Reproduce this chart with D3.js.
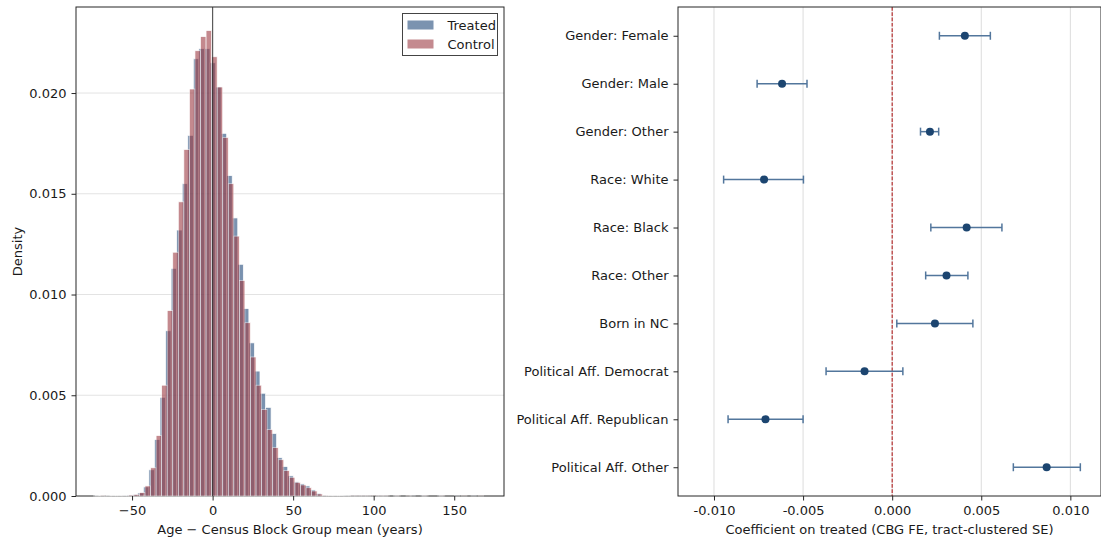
<!DOCTYPE html>
<html>
<head>
<meta charset="utf-8">
<script src="https://cdn.jsdelivr.net/npm/d3@7"></script>
<style>
  body { margin: 0; background: #fff; }
  svg { display: block; font-family: "DejaVu Sans", sans-serif; }
</style>
</head>
<body>
<svg id="chart" width="1101" height="542"></svg>
<script>
// ---- Histogram data: age minus census block group mean (years), density per bin ----
const controlBinStart = -73.0;
const controlBinWidth = 3.447;
const controlDensity = [
  0.00002, 0.00001, 0.00002, 0.00002, 0.00003, 0.00003, 0.00005, 0.00008,
  0.00017, 0.0005, 0.0014, 0.0030, 0.0055, 0.0092, 0.0121, 0.0146,
  0.0172, 0.0202, 0.0221, 0.0228, 0.0231, 0.0218, 0.0203, 0.0178,
  0.0155, 0.0129, 0.0107, 0.0086, 0.0069, 0.0055, 0.0043, 0.0033,
  0.0024, 0.0018, 0.00126, 0.00093, 0.00068, 0.00055, 0.00041, 0.00025,
  0.0001, 0.00004, 0.00003, 0.00002, 0.00002, 0.00002, 0.00001, 0.00001,
  0.00001, 0.00001, 0.00001, 0.00001, 0.00001, 0, 0.00001, 0,
  0.00001, 0, 0, 0.00001, 0, 0, 0.00001, 0,
  0, 0, 0.00001, 0, 0, 0.00001
];

const treatedBinStart = -74.0;
const treatedBinWidth = 3.447;
const treatedDensity = [
  0.00001, 0.00002, 0.00001, 0.00002, 0.00003, 0.00004, 0.00005, 0.00007,
  0.00015, 0.00045, 0.0013, 0.0028, 0.0049, 0.0082, 0.0113, 0.0132,
  0.0155, 0.0179, 0.0217, 0.0222, 0.0222, 0.0215, 0.0203, 0.0180,
  0.0159, 0.0138, 0.0115, 0.0093, 0.0076, 0.0062, 0.0051, 0.0044,
  0.0031, 0.0019, 0.00146, 0.0010, 0.0007, 0.0006, 0.0005, 0.0003,
  0.00013, 0.00004, 0.00003, 0.00002, 0.00002, 0.00001, 0.00001, 0.00001,
  0.00001, 0.00001, 0, 0.00001, 0.00001, 0, 0.00001, 0,
  0, 0.00001, 0, 0.00001, 0, 0, 0.00001, 0,
  0, 0.00001, 0, 0, 0.00001, 0
];

const histXTicks = [-50, 0, 50, 100, 150];
const histYTicks = [0, 0.005, 0.010, 0.015, 0.020];
const seriesNames = ["Treated", "Control"];

// ---- Coefficient plot data ----
const covariates = [
  "Gender: Female", "Gender: Male", "Gender: Other",
  "Race: White", "Race: Black", "Race: Other",
  "Born in NC",
  "Political Aff. Democrat", "Political Aff. Republican", "Political Aff. Other"
];
const coefEstimate = [0.00408, -0.00618, 0.00212, -0.00719, 0.00418, 0.00305, 0.00240, -0.00155, -0.00711, 0.00867];
const coefLower    = [0.00265, -0.00758, 0.00159, -0.00946, 0.00217, 0.00188, 0.00026, -0.00371, -0.00921, 0.00680];
const coefUpper    = [0.00551, -0.00478, 0.00261, -0.00498, 0.00616, 0.00425, 0.00453, 0.00060, -0.00500, 0.01056];
const coefXTicks = [-0.010, -0.005, 0.000, 0.005, 0.010];

// ---- Styling ----
const INK = "#1a1a1a";
const SPINE = "#262626";
const FONT = 13;
const TICK = 4.5, PAD = 5;
const treatedColor = "#234b7b";
const controlColor = "#9d3c44";
const barAlpha = 0.6;

const svg = d3.select("#chart");

// ================= Left panel: overlaid histograms =================
const H = { left: 76, right: 504, top: 7, bottom: 496 };
const xH = d3.scaleLinear().domain([-84.8, 180.9]).range([H.left, H.right]);
const yH = d3.scaleLinear().domain([0, 0.02427]).range([H.bottom, H.top]);

const gH = svg.append("g");

// horizontal grid
gH.append("g").selectAll("line")
  .data(histYTicks.filter(d => d > 0))
  .join("line")
  .attr("x1", H.left).attr("x2", H.right)
  .attr("y1", d => yH(d)).attr("y2", d => yH(d))
  .attr("stroke", "#e3e3e3").attr("stroke-width", 1);

// spines
gH.append("rect")
  .attr("x", H.left).attr("y", H.top)
  .attr("width", H.right - H.left).attr("height", H.bottom - H.top)
  .attr("fill", "none").attr("stroke", SPINE).attr("stroke-width", 1);

function drawBars(values, start, width, color) {
  gH.append("g").selectAll("rect")
    .data(values)
    .join("rect")
    .attr("x", (d, i) => xH(start + i * width))
    .attr("width", (d, i) => xH(start + (i + 1) * width) - xH(start + i * width))
    .attr("y", d => yH(d))
    .attr("height", d => yH(0) - yH(d))
    .attr("fill", color)
    .attr("stroke", "#fff")
    .attr("stroke-width", 0.7)
    .attr("opacity", barAlpha);
}
drawBars(treatedDensity, treatedBinStart, treatedBinWidth, treatedColor);
drawBars(controlDensity, controlBinStart, controlBinWidth, controlColor);

// reference line at zero
gH.append("line")
  .attr("x1", xH(0)).attr("x2", xH(0))
  .attr("y1", H.top).attr("y2", H.bottom)
  .attr("stroke", "#333").attr("stroke-width", 1.2).attr("opacity", 0.8);

// axes
const axH_x = d3.axisBottom(xH).tickValues(histXTicks)
  .tickSize(TICK).tickPadding(PAD).tickSizeOuter(0)
  .tickFormat(d3.format("d"));
const gx = gH.append("g").attr("transform", `translate(0,${H.bottom})`).call(axH_x);
const axH_y = d3.axisLeft(yH).tickValues(histYTicks)
  .tickSize(TICK).tickPadding(PAD).tickSizeOuter(0)
  .tickFormat(d3.format(".3f"));
const gy = gH.append("g").attr("transform", `translate(${H.left},0)`).call(axH_y);

[gx, gy].forEach(g => {
  g.select(".domain").remove();
  g.selectAll(".tick line").attr("stroke", SPINE).attr("stroke-width", 1);
  g.selectAll(".tick text").attr("fill", INK).attr("font-size", FONT)
    .attr("font-family", "DejaVu Sans, sans-serif");
});

gH.append("text")
  .attr("x", (H.left + H.right) / 2).attr("y", 534)
  .attr("text-anchor", "middle").attr("font-size", FONT).attr("fill", INK)
  .text("Age \u2212 Census Block Group mean (years)");

gH.append("text")
  .attr("transform", `translate(22,${(H.top + H.bottom) / 2}) rotate(-90)`)
  .attr("text-anchor", "middle").attr("font-size", FONT).attr("fill", INK)
  .text("Density");

// legend
const legend = gH.append("g").attr("transform", "translate(402.5,13.5)");
legend.append("rect")
  .attr("width", 95).attr("height", 42)
  .attr("fill", "#fff").attr("stroke", "#444").attr("stroke-width", 1);
const legendColors = [treatedColor, controlColor];
seriesNames.forEach((name, i) => {
  const row = legend.append("g").attr("transform", `translate(5,${7 + i * 19})`);
  row.append("rect")
    .attr("width", 26).attr("height", 9)
    .attr("fill", legendColors[i]).attr("opacity", barAlpha);
  row.append("text")
    .attr("x", 40).attr("y", 9)
    .attr("font-size", FONT).attr("fill", INK)
    .text(name);
});

// ================= Right panel: coefficient estimates =================
const C = { left: 678, right: 1101, top: 7, bottom: 496 };
const xC = d3.scaleLinear().domain([-0.01202, 0.01172]).range([C.left, C.right]);
const yC = d3.scalePoint().domain(covariates).range([C.top, C.bottom]).padding(0.6);

const gC = svg.append("g");

gC.append("g").selectAll("line")
  .data(coefXTicks)
  .join("line")
  .attr("x1", d => xC(d)).attr("x2", d => xC(d))
  .attr("y1", C.top).attr("y2", C.bottom)
  .attr("stroke", "#dcdcdc").attr("stroke-width", 1);

gC.append("line")
  .attr("x1", xC(0)).attr("x2", xC(0))
  .attr("y1", C.top).attr("y2", C.bottom)
  .attr("stroke", "#b22222").attr("stroke-width", 1.1)
  .attr("stroke-dasharray", "3.7,1.6");

gC.append("rect")
  .attr("x", C.left).attr("y", C.top)
  .attr("width", C.right - C.left).attr("height", C.bottom - C.top)
  .attr("fill", "none").attr("stroke", SPINE).attr("stroke-width", 1);

const rows = covariates.map((name, i) => ({
  name, est: coefEstimate[i], lo: coefLower[i], hi: coefUpper[i]
}));

const errColor = "#52769c";
const dotColor = "#1c4570";
const gRows = gC.append("g").selectAll("g").data(rows).join("g")
  .attr("transform", d => `translate(0,${yC(d.name)})`);
gRows.append("line")
  .attr("x1", d => xC(d.lo)).attr("x2", d => xC(d.hi))
  .attr("stroke", errColor).attr("stroke-width", 1.5);
gRows.append("line")
  .attr("x1", d => xC(d.lo)).attr("x2", d => xC(d.lo))
  .attr("y1", -4).attr("y2", 4)
  .attr("stroke", errColor).attr("stroke-width", 1.5);
gRows.append("line")
  .attr("x1", d => xC(d.hi)).attr("x2", d => xC(d.hi))
  .attr("y1", -4).attr("y2", 4)
  .attr("stroke", errColor).attr("stroke-width", 1.5);
gRows.append("circle")
  .attr("cx", d => xC(d.est)).attr("r", 4)
  .attr("fill", dotColor);

const axC_x = d3.axisBottom(xC).tickValues(coefXTicks)
  .tickSize(TICK).tickPadding(PAD).tickSizeOuter(0)
  .tickFormat(d => d3.format(".3f")(d).replace("\u2212", "-"));
const gcx = gC.append("g").attr("transform", `translate(0,${C.bottom})`).call(axC_x);
const axC_y = d3.axisLeft(yC).tickSize(TICK).tickPadding(PAD).tickSizeOuter(0);
const gcy = gC.append("g").attr("transform", `translate(${C.left},0)`).call(axC_y);

[gcx, gcy].forEach(g => {
  g.select(".domain").remove();
  g.selectAll(".tick line").attr("stroke", SPINE).attr("stroke-width", 1);
  g.selectAll(".tick text").attr("fill", INK).attr("font-size", FONT)
    .attr("font-family", "DejaVu Sans, sans-serif");
});

gC.append("text")
  .attr("x", (C.left + C.right) / 2).attr("y", 534)
  .attr("text-anchor", "middle").attr("font-size", FONT).attr("fill", INK)
  .text("Coefficient on treated (CBG FE, tract-clustered SE)");
</script>
</body>
</html>
